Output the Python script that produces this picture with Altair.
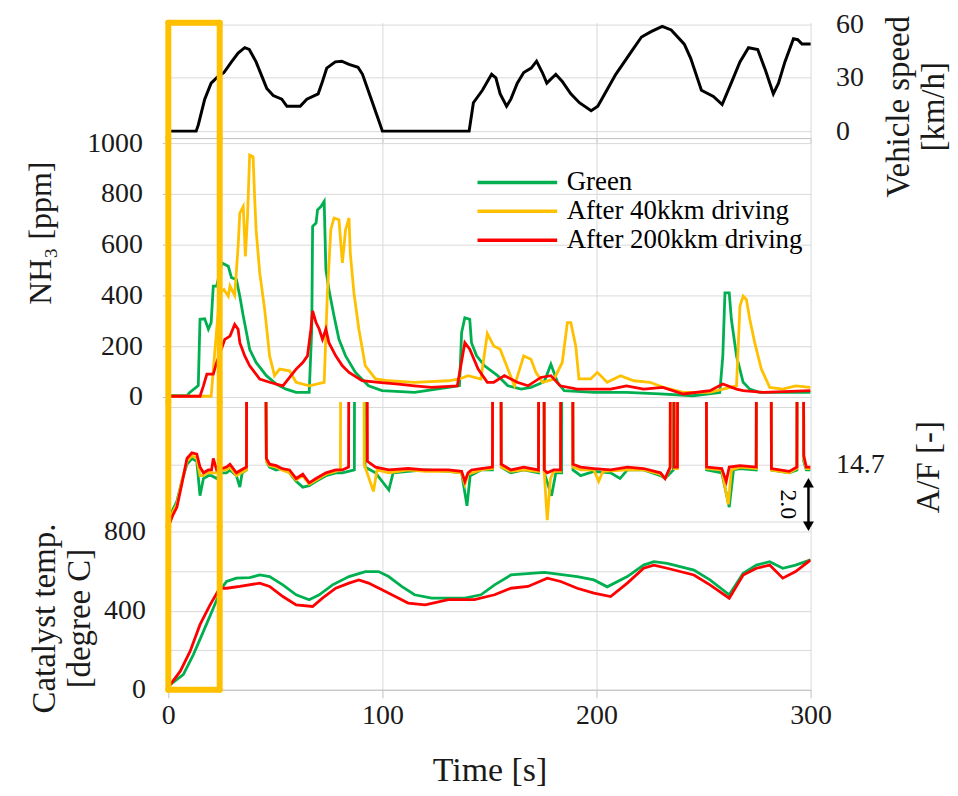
import altair as alt
import pandas as pd

# ---------------- data ----------------
SERIES = ["Green", "After 40kkm driving", "After 200kkm driving"]
COLORS = ["#00B050", "#FFC000", "#FF0000"]

TIME_TICKS = [0, 100, 200, 300]
SPEED_TICKS = [0, 30, 60]
NH3_TICKS = [0, 200, 400, 600, 800, 1000]
AF_TICKS = [12.7, 14.7, 16.7]
TEMP_TICKS = [0, 200, 400, 600, 800]

FUEL_CUT = 18.5  # A/F far above the plotted range (fuel cut)

SPEED = [(0, 0), (13, 0), (14, 3.5), (17, 18), (20, 27), (23, 30.5), (26, 33), (29.5, 39), (32.6, 44),
         (35.7, 47), (37.8, 46), (41, 39), (44, 30), (46, 24), (49, 20), (53, 18), (55.4, 14), (61.6, 14),
         (64.7, 18), (70, 21), (72, 28), (74, 35.5), (78, 39), (81, 39.4), (84.4, 37.6), (88.6, 36),
         (90.7, 32), (94.8, 18), (98, 7), (100, 0), (140.5, 0), (142.5, 16), (146.7, 23), (151, 32),
         (153, 30), (155, 21), (158, 14), (160, 18), (163, 27), (166, 33), (169.5, 35.5), (172, 39.4),
         (174.7, 33), (176.8, 27), (181, 32), (184, 28), (188, 21), (192, 16), (197.5, 11.5), (200.6, 14),
         (204.8, 23), (209, 32), (213, 39), (217, 46), (221, 53), (225.5, 56), (230.7, 59), (234.9, 57),
         (241, 49), (244, 41), (249, 23), (254.6, 19.5), (258.7, 15), (262.9, 27), (267, 39), (271, 47),
         (275.3, 46), (279, 34), (282.6, 21), (285, 27), (288, 39), (292, 52), (294, 51.5), (296, 49),
         (300, 49)]

NH3_GREEN = [(0, 5), (8.7, 5), (10, 18), (14, 45), (14.8, 306), (17, 308), (18.7, 267), (20, 293),
             (21, 437), (22.6, 437), (25, 528), (28, 515), (29.5, 470), (31.8, 463), (33.4, 397),
             (35, 319), (36.5, 254), (38, 188), (41, 136), (45.8, 84), (50.4, 51), (55, 31), (59.7, 18),
             (65.8, 18), (67, 267), (67.4, 672), (69, 685), (69.7, 737), (71.3, 750), (72.8, 770),
             (73.6, 502), (75, 423), (77.4, 319), (79.7, 227), (82.8, 162), (87.4, 97), (93.5, 44),
             (99.8, 25), (115, 18), (130.8, 38), (136, 45), (137, 254), (138.5, 312), (140.8, 306),
             (141.6, 214), (144, 162), (147.7, 123), (153.8, 84), (158.6, 44), (164.8, 31), (169.4, 38),
             (175.6, 60), (178.7, 129), (181.8, 58), (184.9, 25), (198.8, 18), (214, 18), (229.6, 12),
             (245, 5), (257.6, 18), (259, 162), (260, 410), (262, 410), (263, 306), (265.4, 162),
             (268.5, 58), (271.6, 31), (276, 18), (300, 18)]

NH3_40K = [(0, 3), (20, 3), (22.6, 267), (24, 410), (26, 423), (28, 397), (28.8, 437), (31, 400),
           (32.6, 593), (33.4, 724), (35, 750), (36, 554), (37, 711), (38, 953), (39.6, 946), (40.3, 790),
           (41, 659), (42.7, 489), (45, 345), (47.3, 162), (49.6, 84), (52, 110), (56.6, 103), (59.7, 58),
           (65.8, 44), (72.8, 58), (74.3, 410), (75.9, 659), (77.4, 705), (79.7, 698), (81.3, 528),
           (82.8, 659), (84.4, 705), (85, 567), (86.7, 410), (89, 267), (92, 123), (96.8, 71), (103, 64),
           (115, 58), (130.8, 64), (136, 71), (140, 84), (146, 71), (149, 250), (152, 201), (155, 188),
           (158.6, 110), (161.7, 44), (166, 162), (169.4, 149), (171.7, 97), (174.8, 58), (180.2, 71),
           (184, 136), (186.4, 293), (188, 293), (190.3, 201), (191.8, 71), (197.3, 71), (200.4, 97),
           (205, 58), (211.2, 84), (217.4, 64), (225, 58), (231.2, 38), (240.5, 18), (252.8, 18),
           (265.4, 44), (267, 358), (268.5, 397), (270, 384), (271.6, 306), (273.9, 214), (277, 110),
           (280.9, 38), (287, 31), (293, 44), (300, 38)]

NH3_200K = [(0, 3), (14.8, 3), (16.4, 44), (18, 90), (21, 90), (22.6, 136), (26.4, 227), (28.8, 240),
            (31, 286), (32.6, 267), (33.4, 214), (35.7, 162), (38, 123), (42.7, 71), (47.3, 58),
            (53.5, 44), (57.3, 84), (59.7, 110), (62.8, 136), (65, 162), (66.6, 267), (67.4, 339),
            (69, 293), (70.5, 267), (72, 227), (73.6, 267), (75, 214), (78.2, 162), (81.3, 123),
            (84.4, 97), (90.5, 64), (98.2, 58), (107.5, 51), (115, 44), (122.9, 38), (135, 44),
            (138.5, 214), (140.8, 188), (144.7, 110), (149, 58), (152, 58), (157, 84), (163, 58),
            (168, 44), (174, 77), (178.7, 84), (183, 44), (191, 31), (206.6, 31), (214, 44), (222, 31),
            (231, 38), (240.5, 12), (253, 25), (259, 51), (265.4, 31), (268.5, 25), (278, 18), (300, 25)]

F = FUEL_CUT
AF_GREEN = [(0.5, 12.8), (2, 13.1), (4, 13.4), (6.3, 14.1), (8.7, 14.7), (11, 14.9), (13.3, 14.8),
            (14.8, 13.6), (16.4, 14.2), (18.7, 14.3), (20.2, 14.3), (22.6, 14.2), (25, 14.4),
            (27.2, 14.4), (28.8, 14.5), (31.8, 14.3), (33.4, 13.9), (34.5, 14.4), (36.5, 14.5), (36.6, F),
            (45.5, F), (45.8, 14.8), (47.3, 14.6), (50.4, 14.5), (53, 14.55), (56.6, 14.4), (59.7, 14.1),
            (62.8, 13.9), (65.8, 13.95), (69, 14.1), (73.6, 14.3), (78.2, 14.4), (81.3, 14.4),
            (86.9, 14.5), (87, F), (91.8, F), (91.9, 14.6), (96.8, 14.4), (103, 13.8), (105, 14.4),
            (112, 14.45), (120, 14.5), (130.8, 14.45), (137, 14.4), (139.5, 13.25), (141, 14.3),
            (146, 14.5), (151.4, 14.5), (151.5, F), (155.4, F), (155.5, 14.6), (160, 14.4), (166, 14.5),
            (172.9, 14.4), (173, F), (175.5, F), (175.6, 14.4), (179, 13.6), (181, 14.4), (183.7, 14.4),
            (183.8, F), (188.9, F), (189, 14.5), (192.6, 14.3), (198.8, 14.45), (206.6, 14.4),
            (211, 14.2), (214.4, 14.5), (222, 14.5), (229.9, 14.3), (232, 14.2), (235.9, 14.5),
            (236, F), (251.3, F), (251.4, 14.5), (258.5, 14.4), (262, 13.2), (264, 14.5), (267, 14.55),
            (274.6, 14.5), (274.7, F), (281.6, F), (281.7, 14.5), (290, 14.4), (293.6, 14.5),
            (293.7, F), (296.7, F), (296.8, 14.8), (298, 14.5), (300, 14.5)]

AF_40K = [(0.5, 12.7), (2, 13.0), (4, 13.3), (6.3, 14.1), (8.7, 14.8), (11, 15.0), (13.3, 14.9),
          (14.8, 14.3), (16.4, 14.3), (18.7, 14.45), (20.2, 14.4), (22.6, 14.4), (25, 14.5),
          (27.2, 14.5), (28.8, 14.6), (31.8, 14.3), (34, 14.4), (36.5, 14.5), (36.6, F), (45.5, F),
          (45.8, 14.8), (47.3, 14.65), (50.4, 14.6), (53, 14.5), (56.6, 14.4), (59.7, 14.15),
          (62.8, 14.3), (65.8, 14.0), (69, 14.15), (73.6, 14.35), (78.2, 14.45), (80.4, 14.5),
          (80.5, F), (91.4, F), (91.5, 14.7), (95.8, 13.75), (97.5, 14.5), (103, 14.4), (112, 14.5),
          (120, 14.45), (130.8, 14.45), (137, 14.4), (138.5, 14.0), (140, 14.35), (146, 14.5),
          (151.4, 14.55), (151.5, F), (155.4, F), (155.5, 14.6), (160, 14.45), (166, 14.5),
          (172.9, 14.45), (173, F), (175.5, F), (175.6, 14.4), (177, 12.75), (178.5, 14.2),
          (180, 14.45), (183.2, 14.45), (183.3, F), (188.9, F), (189, 14.6), (192.6, 14.5),
          (198.8, 14.5), (201, 14.1), (203, 14.45), (214.4, 14.5), (222, 14.5), (229.9, 14.35),
          (232, 14.2), (234.4, 14.55), (234.5, F), (236.2, F), (236.3, 14.55), (237.8, 14.55),
          (237.9, F), (251.3, F), (251.4, 14.55), (258.5, 14.5), (261.6, 13.3), (263, 14.5),
          (267, 14.6), (274.6, 14.55), (274.7, F), (281.6, F), (281.7, 14.5), (290, 14.4),
          (293.6, 14.55), (293.7, F), (296.7, F), (296.8, 14.9), (298, 14.55), (300, 14.55)]

AF_200K = [(0.5, 12.6), (2, 12.9), (4, 13.2), (6.3, 14.0), (8.7, 14.9), (11, 15.1), (13.3, 15.05),
           (14.8, 14.6), (16.4, 14.4), (18.7, 14.5), (20.2, 14.5), (21, 14.9), (22.6, 14.5), (25, 14.55),
           (27.2, 14.6), (28.8, 14.7), (31.8, 14.4), (34, 14.5), (36.5, 14.6), (36.6, F), (45.5, F),
           (45.8, 14.9), (47.3, 14.7), (50.4, 14.65), (53, 14.55), (56.6, 14.5), (59.7, 14.2),
           (62.8, 14.35), (65.8, 14.05), (69, 14.2), (73.6, 14.4), (78.2, 14.5), (81.3, 14.5),
           (84.2, 14.6), (84.3, F), (92.9, F), (93, 14.8), (96.8, 14.6), (103, 14.5), (112, 14.55),
           (120, 14.5), (130.8, 14.5), (137, 14.45), (138.5, 14.1), (140, 14.4), (141.6, 14.5),
           (146, 14.55), (151.4, 14.6), (151.5, F), (155.4, F), (155.5, 14.7), (160, 14.5), (166, 14.6),
           (172.9, 14.5), (173, F), (175.5, F), (175.6, 14.5), (177, 14.4), (180, 14.5), (183.2, 14.5),
           (183.3, F), (188.9, F), (189, 14.7), (192.6, 14.6), (198.8, 14.55), (206.6, 14.5),
           (214.4, 14.6), (222, 14.55), (229.9, 14.4), (232, 14.2), (234.4, 14.6), (234.5, F),
           (236.2, F), (236.3, 14.6), (237.8, 14.6), (237.9, F), (251.3, F), (251.4, 14.6),
           (258.5, 14.55), (260.6, 14.1), (262, 14.6), (267, 14.65), (274.6, 14.6), (274.7, F),
           (281.6, F), (281.7, 14.55), (290, 14.45), (293.6, 14.6), (293.7, F), (296.7, F),
           (296.8, 15.0), (298, 14.6), (300, 14.6)]

TEMP_GREEN = [(0, 20), (1, 27), (7, 77), (11.7, 178), (16.4, 295), (21, 412), (24.9, 513), (27.2, 547),
              (31.8, 564), (38, 567), (42.7, 580), (47.3, 572), (53.5, 530), (59.7, 480), (65.8, 455),
              (70.5, 480), (76.7, 530), (84.4, 572), (92, 597), (98.2, 597), (102.9, 572), (109, 522),
              (115, 480), (123, 463), (138.5, 463), (146, 480), (152.4, 530), (160, 580), (175.6, 593),
              (191, 572), (198.8, 555), (205, 520), (214.4, 572), (222, 630), (226.8, 647), (233, 639),
              (245.5, 605), (253, 555), (262, 480), (268.5, 589), (274.7, 630), (280.9, 647), (287, 614),
              (293, 630), (300, 656)]

TEMP_200K = [(0, 20), (1, 27), (5.6, 94), (10.2, 195), (14.8, 329), (19.5, 429), (24, 513), (27.2, 513),
             (33.4, 522), (42.7, 539), (47.3, 522), (53.5, 471), (59.7, 429), (67.4, 421), (72, 463),
             (78.2, 513), (84.4, 539), (89, 555), (93.5, 539), (99.8, 505), (106, 471), (112, 438),
             (120, 429), (130.8, 455), (143, 455), (152.4, 480), (160, 513), (168, 522), (177, 564),
             (183.3, 547), (191, 513), (198.8, 488), (206.6, 471), (214.4, 539), (222, 614), (226.8, 630),
             (233, 614), (245.5, 580), (253, 530), (262, 463), (268.5, 580), (274.7, 614), (280.9, 630),
             (287, 564), (293, 597), (300, 656)]

# highlighted time window (orange box), seconds
BOX_T = [0, 24]

# ---------------- styling ----------------
FONT = "Liberation Serif, Times New Roman, serif"
TXT = "#1a1a1a"
GRID = "#d9d9d9"
AXLINE = "#bfbfbf"
ORANGE = "#FFC000"
W = 645
H_SPEED, H_NH3, H_AF, H_TEMP = 116, 265, 125, 164
SPEED_DOMAIN = [-3.93, 61.12]
NH3_DOMAIN = [-19.6, 1019.6]
AF_DOMAIN = [12.526, 16.874]
TEMP_DOMAIN = [0, 825.2]


def frame(pairs, series=None):
    d = pd.DataFrame(pairs, columns=["t", "v"])
    if series is not None:
        d["s"] = series
    return d


XS = alt.Scale(domain=[0, 300], nice=False, zero=False)
X_HIDDEN_AXIS = alt.Axis(values=TIME_TICKS, grid=True, gridColor=GRID, labels=False, ticks=False,
                         domain=False, title=None)
X_SPEED_AXIS = alt.Axis(values=TIME_TICKS, grid=True, gridColor=GRID, labels=False, ticks=True,
                        tickSize=5, tickColor=AXLINE, domain=True, domainColor=AXLINE, title=None)


def ysc(dom):
    return alt.Scale(domain=dom, nice=False, zero=False)


def box_sides(dom, xaxis, yaxis, top=None, bottom=None):
    lo = dom[0] if bottom is None else bottom
    hi = dom[1] if top is None else top
    d = pd.DataFrame({"t": BOX_T, "v": [lo, lo], "v2": [hi, hi]})
    layers = [alt.Chart(d).mark_rule(color=ORANGE, strokeWidth=6, strokeCap="round").encode(
        x=alt.X("t:Q", scale=XS, axis=xaxis),
        y=alt.Y("v:Q", scale=ysc(dom), axis=yaxis), y2="v2:Q")]
    for edge in [top, bottom]:
        if edge is not None:
            e = pd.DataFrame({"t": [BOX_T[0]], "t2": [BOX_T[1]], "v": [edge]})
            layers.append(alt.Chart(e).mark_rule(color=ORANGE, strokeWidth=6, strokeCap="round").encode(
                x=alt.X("t:Q", scale=XS, axis=xaxis), x2="t2:Q",
                y=alt.Y("v:Q", scale=ysc(dom), axis=yaxis)))
    return layers


# ---- speed panel ----
speed_axis = alt.Axis(orient="right", values=SPEED_TICKS, grid=True, gridColor=GRID, ticks=False,
                      domain=False, labelPadding=25, labelFont=FONT, labelFontSize=28, labelColor=TXT,
                      title=["Vehicle speed", "[km/h]"], titleFont=FONT, titleFontSize=33,
                      titleFontWeight="normal", titleColor=TXT, titleAngle=270, titleBaseline="top",
                      titleAlign="center", titleX=72, titleY=84, titleLineHeight=35)
speed_line = alt.Chart(frame(SPEED)).mark_line(color="black", strokeWidth=3).encode(
    x=alt.X("t:Q", scale=XS, axis=X_SPEED_AXIS),
    y=alt.Y("v:Q", scale=ysc(SPEED_DOMAIN), axis=speed_axis))
speed = alt.layer(speed_line, *box_sides(SPEED_DOMAIN, X_SPEED_AXIS, speed_axis, top=61)).properties(
    width=W, height=H_SPEED)

# ---- NH3 panel ----
legend = alt.Legend(orient="none", legendX=337, legendY=31, title=None, direction="vertical",
                    symbolType="M-8,0H8", symbolSize=100, symbolStrokeWidth=3.5, labelFont=FONT,
                    labelFontSize=27, labelColor="black", labelOffset=36, labelLimit=0, rowPadding=1,
                    padding=0, symbolOffset=0)
nh3_axis = alt.Axis(values=NH3_TICKS, format="d", grid=True, gridColor=GRID, ticks=True, tickSize=6,
                    tickColor=AXLINE, domain=False, labelPadding=20, labelFont=FONT, labelFontSize=28,
                    labelColor=TXT, title="NH₃ [ppm]", titleFont=FONT, titleFontSize=32,
                    titleFontWeight="normal", titleColor=TXT, titleAngle=270, titleBaseline="top",
                    titleAlign="center", titleX=-143, titleY=95)
color_enc = alt.Color("s:N", scale=alt.Scale(domain=SERIES, range=COLORS), legend=legend)
nh3_layers = []
for pairs, name in [(NH3_GREEN, SERIES[0]), (NH3_40K, SERIES[1]), (NH3_200K, SERIES[2])]:
    nh3_layers.append(alt.Chart(frame(pairs, name)).mark_line(strokeWidth=2.8, clip=True).encode(
        x=alt.X("t:Q", scale=XS, axis=X_HIDDEN_AXIS),
        y=alt.Y("v:Q", scale=ysc(NH3_DOMAIN), axis=nh3_axis), color=color_enc))
nh3 = alt.layer(*nh3_layers, *box_sides(NH3_DOMAIN, X_HIDDEN_AXIS, nh3_axis)).properties(
    width=W, height=H_NH3)

# ---- A/F panel ----
af_axis = alt.Axis(orient="right", values=AF_TICKS, grid=True, gridColor=GRID, ticks=False, domain=False,
                   labelExpr="abs(datum.value - 14.7) < 0.01 ? '14.7' : ''", labelPadding=25,
                   labelFont=FONT, labelFontSize=28, labelColor=TXT, title="A/F [-]", titleFont=FONT,
                   titleFontSize=33, titleFontWeight="normal", titleColor=TXT, titleAngle=270,
                   titleBaseline="top", titleAlign="center", titleX=102, titleY=65)
af_layers = []
for pairs, col in [(AF_GREEN, COLORS[0]), (AF_40K, COLORS[1]), (AF_200K, COLORS[2])]:
    af_layers.append(alt.Chart(frame(pairs)).mark_line(color=col, strokeWidth=2.8, clip=True).encode(
        x=alt.X("t:Q", scale=XS, axis=X_HIDDEN_AXIS),
        y=alt.Y("v:Q", scale=ysc(AF_DOMAIN), axis=af_axis)))
shaft = pd.DataFrame({"t": [299], "v": [14.1], "v2": [12.5]})
heads = pd.DataFrame({"t": [299, 299], "v": [14.05, 12.53], "shape": ["triangle-up", "triangle-down"]})
label20 = pd.DataFrame({"t": [289.5], "v": [13.3], "txt": ["2.0"]})
arrow_shaft = alt.Chart(shaft).mark_rule(color="black", strokeWidth=2.5).encode(
    x=alt.X("t:Q", scale=XS, axis=X_HIDDEN_AXIS), y=alt.Y("v:Q", scale=ysc(AF_DOMAIN), axis=af_axis),
    y2="v2:Q")
arrow_heads = alt.Chart(heads).mark_point(filled=True, color="black", size=120, opacity=1).encode(
    x=alt.X("t:Q", scale=XS, axis=X_HIDDEN_AXIS), y=alt.Y("v:Q", scale=ysc(AF_DOMAIN), axis=af_axis),
    shape=alt.Shape("shape:N", scale=None))
arrow_text = alt.Chart(label20).mark_text(angle=90, font=FONT, fontSize=24, color="black").encode(
    x=alt.X("t:Q", scale=XS, axis=X_HIDDEN_AXIS), y=alt.Y("v:Q", scale=ysc(AF_DOMAIN), axis=af_axis),
    text="txt:N")
af = alt.layer(*af_layers, arrow_shaft, arrow_heads, arrow_text,
               *box_sides(AF_DOMAIN, X_HIDDEN_AXIS, af_axis)).properties(width=W, height=H_AF)

# ---- catalyst temperature panel ----
temp_x_axis = alt.Axis(values=TIME_TICKS, grid=True, gridColor=GRID, ticks=True, tickSize=8,
                       tickColor=AXLINE, domain=True, domainColor=AXLINE, labelPadding=4, labelFlush=False,
                       labelFont=FONT, labelFontSize=28, labelColor=TXT, title="Time [s]", titleFont=FONT,
                       titleFontSize=34, titleFontWeight="normal", titleColor=TXT, titlePadding=24)
temp_axis = alt.Axis(values=TEMP_TICKS, grid=True, gridColor=GRID, ticks=False, domain=False,
                     labelExpr="datum.value % 400 == 0 ? datum.label : ''", labelPadding=23, labelFont=FONT,
                     labelFontSize=28, labelColor=TXT, title=["Catalyst temp.", "[degree C]"],
                     titleFont=FONT, titleFontSize=33, titleFontWeight="normal", titleColor=TXT,
                     titleAngle=270, titleBaseline="top", titleAlign="center", titleX=-140, titleY=92,
                     titleLineHeight=35)
temp_layers = []
for pairs, col in [(TEMP_GREEN, COLORS[0]), (TEMP_200K, COLORS[2])]:
    temp_layers.append(alt.Chart(frame(pairs)).mark_line(color=col, strokeWidth=2.8, clip=True).encode(
        x=alt.X("t:Q", scale=XS, axis=temp_x_axis),
        y=alt.Y("v:Q", scale=ysc(TEMP_DOMAIN), axis=temp_axis)))
temp = alt.layer(*temp_layers, *box_sides(TEMP_DOMAIN, temp_x_axis, temp_axis, bottom=0)).properties(
    width=W, height=H_TEMP)

chart = alt.vconcat(speed, nh3, af, temp, spacing=0, bounds="flush").resolve_scale(
    y="independent", color="independent").properties(
    padding={"left": 17, "top": 0, "right": 0, "bottom": 0}).configure_view(stroke=None)

chart.save("out.html", embed_options={"renderer": "svg", "actions": False})
